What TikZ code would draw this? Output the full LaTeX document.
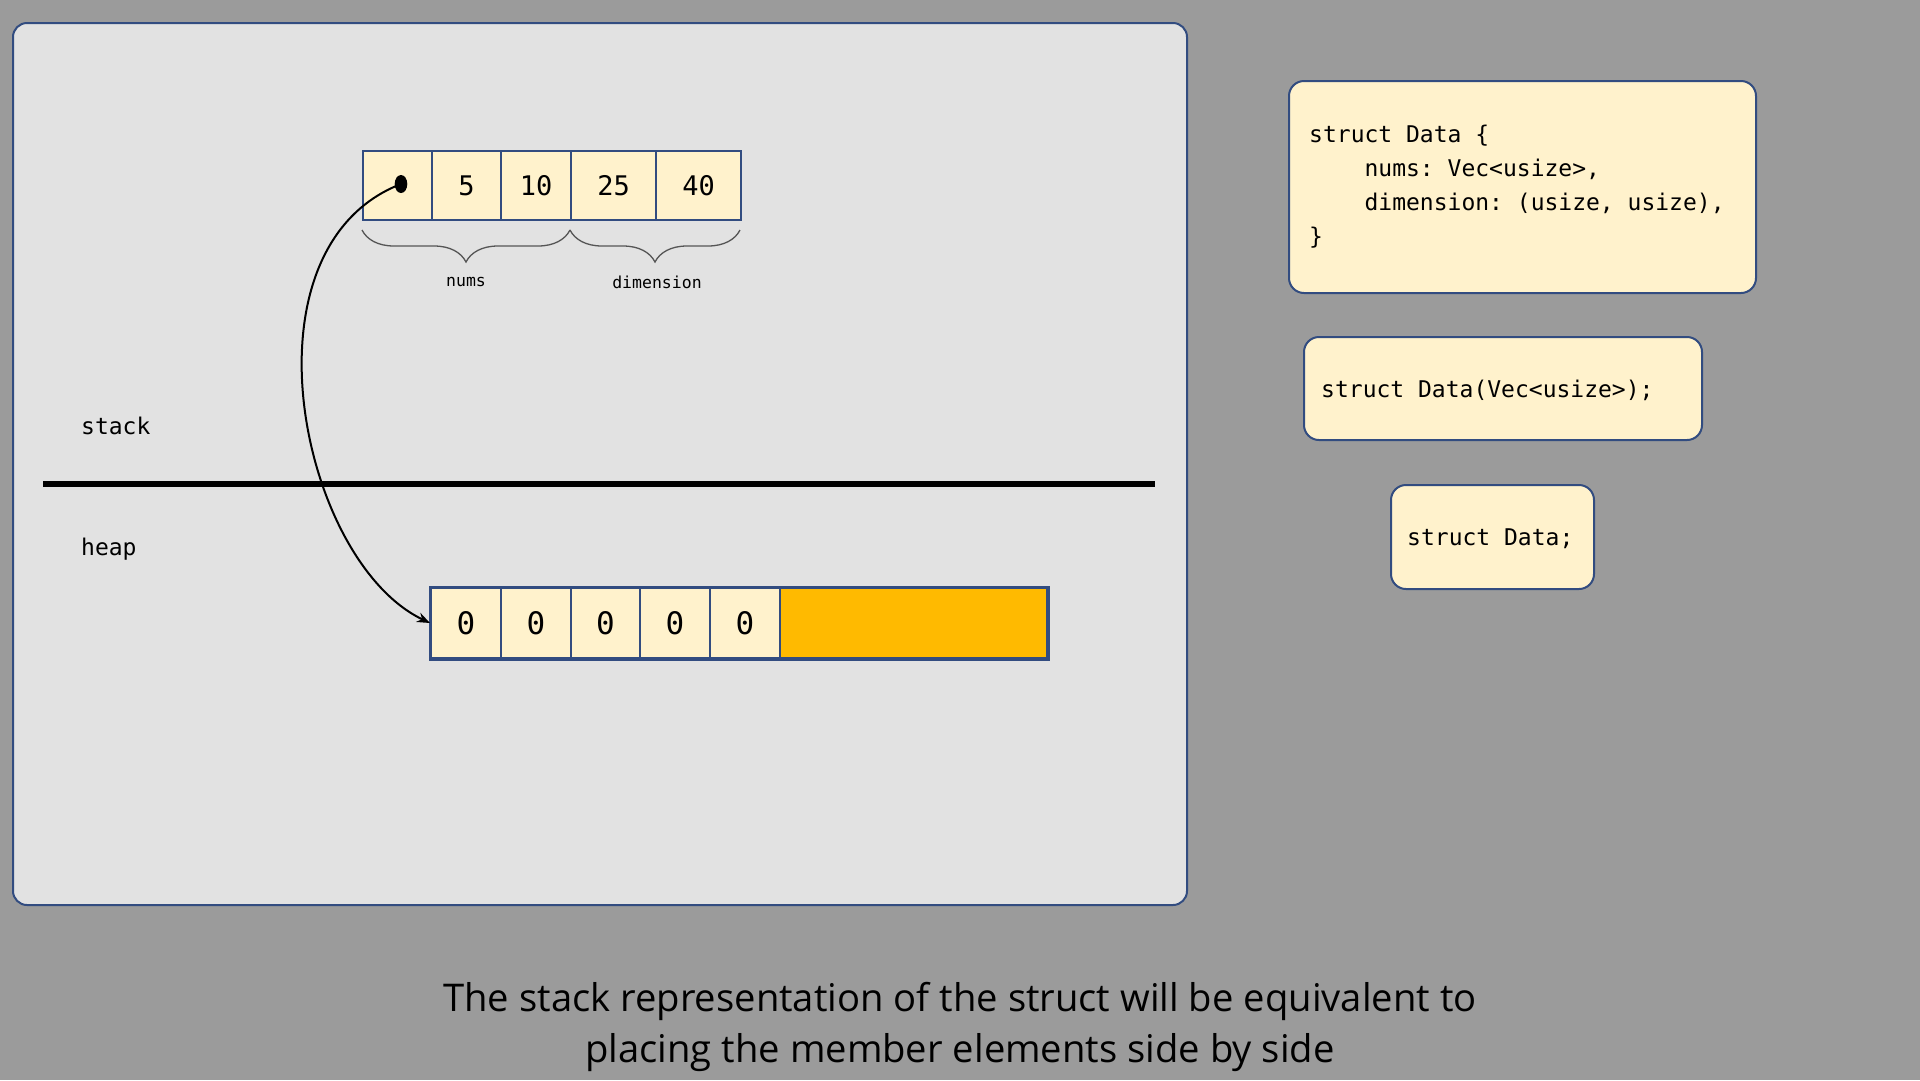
\documentclass[tikz,border=0pt]{standalone}
\usepackage{fontspec}
\setmainfont{Open Sans}
\setmonofont{DejaVu Sans Mono}
\usetikzlibrary{arrows.meta,decorations.pathreplacing,shapes.geometric,calc}
\definecolor{bg}{RGB}{155,155,155}
\definecolor{panelfill}{RGB}{226,226,226}
\definecolor{navy}{RGB}{50,76,128}
\definecolor{cellfill}{RGB}{255,242,204}
\definecolor{amber}{RGB}{255,186,0}
\definecolor{bracegray}{RGB}{85,85,85}
\begin{document}
\begin{tikzpicture}[x=1pt,y=-1pt,
  panelbox/.style={draw=navy, line width=2pt, fill=panelfill, rounded corners=14pt, inner sep=0pt, anchor=north west},
  cellbox/.style={draw=navy, line width=2pt, fill=cellfill, inner sep=0pt, anchor=west, font=\fontsize{27}{30}\selectfont\ttfamily},
  heapcell/.style={cellbox, minimum height=70pt, font=\fontsize{31}{34}\selectfont\ttfamily},
  codebox/.style={draw=navy, line width=2pt, fill=cellfill, rounded corners=15pt, inner sep=0pt, anchor=north west},
  codetext/.style={inner sep=0pt, font=\fontsize{23}{34}\selectfont\ttfamily},
  bracelbl/.style={inner sep=0pt, font=\fontsize{16.5}{18}\selectfont\ttfamily},
  bracepath/.style={draw=bracegray, line width=1.3pt, decorate, decoration={brace, mirror, amplitude=32pt}},
  captext/.style={inner sep=0pt, anchor=base, font=\fontsize{38.2}{50}\selectfont}
]
\useasboundingbox (0,0) rectangle (1920,1080);
\fill[bg] (0,0) rectangle (1920,1080);

% main panel
\node[panelbox, minimum width=1174pt, minimum height=882pt] (panel) at (12,22) {};

% stack cells
\node[cellbox, minimum width=69pt, minimum height=69pt] (s1) at (362,185.5) {};
\node[cellbox, minimum width=69pt, minimum height=69pt] (s2) at (431,185.5) {5};
\node[cellbox, minimum width=70pt, minimum height=69pt] (s3) at (500,185.5) {10};
\node[cellbox, minimum width=85pt, minimum height=69pt] (s4) at (570,185.5) {25};
\node[cellbox, minimum width=85pt, minimum height=69pt] (s5) at (655,185.5) {40};

% braces
\coordinate (b1l) at (362,230);
\coordinate (b1r) at (570,230);
\coordinate (b2l) at (570,230);
\coordinate (b2r) at (740,230);
\draw[bracepath] (b1l) -- (b1r);
\draw[bracepath] (b2l) -- (b2r);
\node[bracelbl] (numslbl) at (466,282) {nums};
\node[bracelbl] (dimlbl) at (657,282) {dimension};

% separator
\coordinate (sepL) at (43,484);
\coordinate (sepR) at (1155,484);
\draw[line width=6pt] (sepL) -- (sepR);
\node[codetext, anchor=base west] (stacklbl) at (81,434) {stack};
\node[codetext, anchor=base west] (heaplbl) at (81,555) {heap};

% heap cells
\node[heapcell, minimum width=70pt] (h1) at (430,623) {0};
\node[heapcell, minimum width=70pt] (h2) at (500,623) {0};
\node[heapcell, minimum width=69pt] (h3) at (570,623) {0};
\node[heapcell, minimum width=70pt] (h4) at (639,623) {0};
\node[heapcell, minimum width=70pt] (h5) at (709,623) {0};
\node[heapcell, fill=amber, minimum width=267pt] (h6) at (779,623) {};
\draw[navy, line width=3pt] (h1.north west) rectangle (h6.south east);

% pointer
\node[ellipse, fill=black, inner sep=0pt, minimum width=12.6pt, minimum height=18pt] (dot) at (401,184) {};
\draw[line width=2pt, -{Stealth[length=13pt,width=10pt]}] (dot.center) .. controls (236,248) and (300,561) .. (h1.west);

% code boxes
\node[codebox, minimum width=467pt, minimum height=212pt] (c1) at (1288,80) {};
\node[codetext, anchor=west, align=left] (c1t) at (1309,187) {struct Data \{\\\phantom{xxxx}nums: Vec<usize>,\\\phantom{xxxx}dimension: (usize, usize),\\\}};
\node[codebox, minimum width=398pt, minimum height=103pt] (c2) at (1303,336) {};
\node[codetext, anchor=base west] (c2t) at (1321,397) {struct Data(Vec<usize>);};
\node[codebox, minimum width=203pt, minimum height=104pt] (c3) at (1390,484) {};
\node[codetext, anchor=base west] (c3t) at (1407,545) {struct Data;};

% caption
\node[captext] (cap1) at (960,1011) {The stack representation of the struct will be equivalent to};
\node[captext] (cap2) at (960,1062) {placing the member elements side by side};
\end{tikzpicture}
\end{document}
